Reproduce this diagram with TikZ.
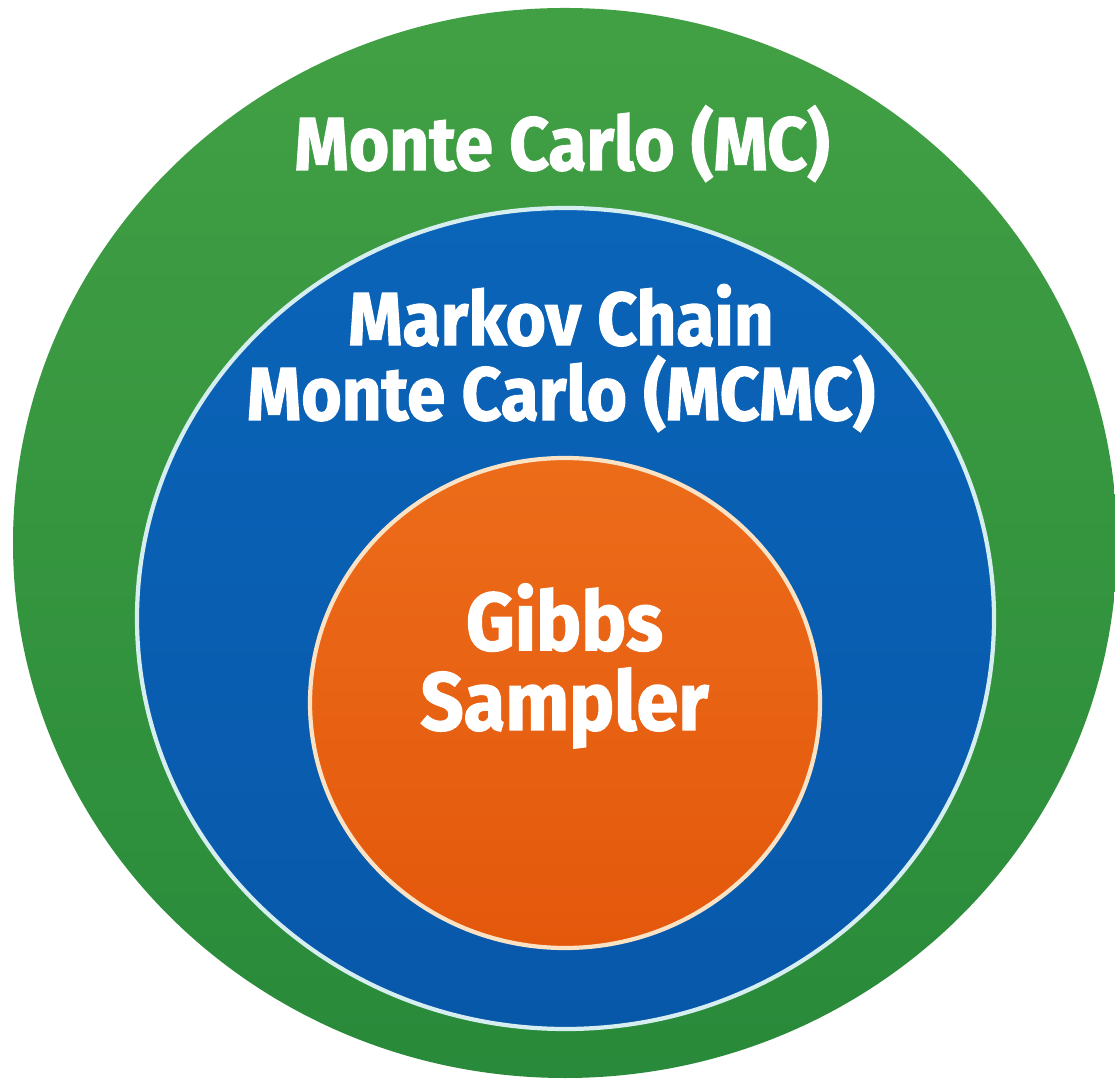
\documentclass[tikz,border=0pt]{standalone}
\usepackage{fontspec}
\setmainfont{Fira Sans}
\newfontfamily\labelfont{Fira Sans Bold}[FakeStretch=0.92, FakeBold=1.6]
\usetikzlibrary{positioning}

\definecolor{mcgreen}{RGB}{66, 160, 68}
\definecolor{mcgreendark}{RGB}{40, 138, 58}
\definecolor{mcmcblue}{RGB}{10, 100, 184}
\definecolor{mcmcbluedark}{RGB}{8, 88, 170}
\definecolor{gibbsorange}{RGB}{236, 108, 26}
\definecolor{gibbsorangedark}{RGB}{228, 88, 12}
\definecolor{rimblue}{RGB}{214, 238, 240}
\definecolor{rimorange}{RGB}{250, 226, 196}

\tikzset{
  setlabel/.style={text=white, font=\labelfont\fontsize{21.4}{21.3}\selectfont,
    align=center, inner sep=0pt, anchor=base},
}

\begin{document}
\begin{tikzpicture}[x=1cm, y=1cm]
  \useasboundingbox (0,0) rectangle (11.15,10.80);
  \fill[white] (0,0) rectangle (11.15,10.80);
  \clip (0,0) rectangle (11.15,10.80);

  % Outer set: MC
  \shade[top color=mcgreen, bottom color=mcgreendark]
    (5.65,5.37) ellipse [x radius=5.52, y radius=5.35];

  % Middle set: MCMC
  \shade[top color=mcmcblue, bottom color=mcmcbluedark, draw=rimblue, line width=1.2pt]
    (5.655,4.615) ellipse [x radius=4.285, y radius=4.105];

  % Inner set: Gibbs
  \shade[top color=gibbsorange, bottom color=gibbsorangedark, draw=rimorange, line width=1.2pt]
    (5.65,3.77) ellipse [x radius=2.55, y radius=2.45];

  % Labels (base = last line)
  \node[setlabel] (mc) at (5.62,9.10) {Monte Carlo (MC)};
  \node[setlabel] (mcmc) at (5.61,6.60) {Markov Chain\\Monte Carlo (MCMC)};
  \node[setlabel, font=\labelfont\fontsize{23.4}{22.7}\selectfont] (gibbs) at (5.645,3.50) {Gibbs\\Sampler};
\end{tikzpicture}
\end{document}
